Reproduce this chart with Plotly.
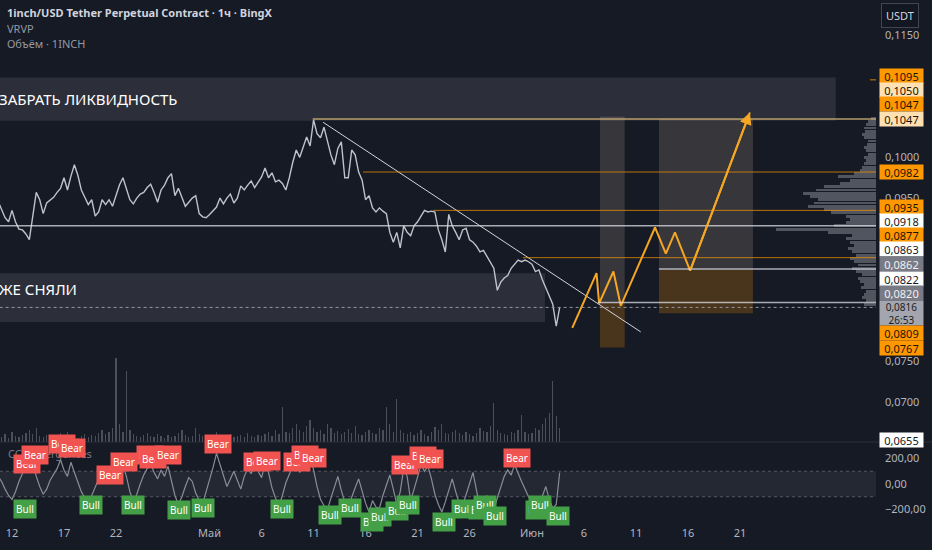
import numpy as np
import pandas as pd
import plotly.graph_objects as go

# price path, every 8 hours
times = pd.date_range("2025-04-10 16:00", periods=163, freq="8h")
close = [
    0.0946, 0.0935, 0.0926, 0.0921, 0.0935, 0.0921, 0.0912, 0.0911, 0.0906, 0.0899,
    0.0929, 0.0957, 0.0948, 0.0931, 0.0944, 0.0948, 0.0951, 0.0957, 0.0962, 0.0975,
    0.0960, 0.0977, 0.0991, 0.0978, 0.0960, 0.0951, 0.0942, 0.0948, 0.0928, 0.0933,
    0.0948, 0.0942, 0.0948, 0.0940, 0.0954, 0.0966, 0.0975, 0.0962, 0.0948, 0.0943,
    0.0950, 0.0955, 0.0957, 0.0963, 0.0967, 0.0957, 0.0945, 0.0960, 0.0966, 0.0975,
    0.0980, 0.0953, 0.0962, 0.0951, 0.0940, 0.0945, 0.0950, 0.0953, 0.0931, 0.0927,
    0.0926, 0.0930, 0.0935, 0.0939, 0.0950, 0.0943, 0.0950, 0.0955, 0.0944, 0.0950,
    0.0965, 0.0960, 0.0966, 0.0971, 0.0963, 0.0970, 0.0976, 0.0987, 0.0975, 0.0981,
    0.0970, 0.0972, 0.0968, 0.0960, 0.0975, 0.0994, 0.1009, 0.1000, 0.1014, 0.1025,
    0.1014, 0.1046, 0.1029, 0.1024, 0.1037, 0.1021, 0.1003, 0.0991, 0.1011, 0.1019,
    0.0975, 0.0975, 0.1009, 0.1003, 0.0982, 0.0972, 0.0948, 0.0953, 0.0938, 0.0933,
    0.0938, 0.0934, 0.0931, 0.0908, 0.0896, 0.0908, 0.0889, 0.0916, 0.0908, 0.0904,
    0.0916, 0.0921, 0.0928, 0.0935, 0.0933, 0.0934, 0.0933, 0.0911, 0.0899, 0.0884,
    0.0930, 0.0916, 0.0908, 0.0899, 0.0911, 0.0913, 0.0899, 0.0896, 0.0891, 0.0884,
    0.0886, 0.0879, 0.0872, 0.0864, 0.0837, 0.0847, 0.0852, 0.0855, 0.0864, 0.0869,
    0.0874, 0.0872, 0.0874, 0.0872, 0.0869, 0.0860, 0.0862, 0.0850, 0.0840, 0.0828,
    0.0820, 0.0793, 0.0816,
]
volume = [
    6, 5, 8, 4, 10, 6, 5, 7, 9, 12,
    8, 14, 6, 5, 7, 4, 6, 5, 9, 7,
    10, 6, 5, 4, 6, 8, 5, 7, 6, 9,
    12, 8, 10, 14, 86, 18, 10, 72, 12, 8,
    6, 5, 7, 9, 6, 5, 8, 6, 4, 7,
    5, 6, 9, 12, 7, 5, 6, 14, 8, 6,
    5, 4, 6, 10, 7, 5, 6, 8, 5, 6,
    7, 5, 9, 6, 5, 7, 6, 8, 10, 6,
    12, 8, 36, 10, 9, 14, 18, 12, 10, 16,
    22, 14, 10, 12, 8, 18, 14, 9, 11, 8,
    10, 13, 9, 16, 8, 7, 10, 12, 9, 8,
    14, 12, 36, 18, 10, 44, 12, 9, 8, 10,
    7, 9, 12, 8, 6, 10, 15, 12, 18, 9,
    8, 10, 12, 9, 7, 10, 8, 6, 9, 14,
    11, 10, 16, 40, 12, 9, 8, 7, 10, 9,
    12, 28, 10, 8, 9, 14, 12, 18, 24, 30,
    62, 26, 14,
]
cci = [
    60, 20, -40, -90, -120, -60, 20, 80, 140, 90,
    160, 60, -20, -80, -40, 30, 80, 120, 190, 110,
    60, 170, 90, 20, -60, -110, -150, -90, -20, 40,
    100, 50, 130, 70, 10, 90, 150, 60, -60, -140,
    -80, 0, 70, 120, 160, 90, 40, 110, 60, 140,
    30, -90, -160, -100, -20, 50, 20, -70, -130, -150,
    -60, 30, 130, 240, 150, 60, -20, 40, 100, 30,
    -40, 60, 120, 80, 170, 100, 50, 160, 90, -30,
    -110, -170, -90, 10, 80, 140, 170, 90, 160, 120,
    200, 110, -20, -120, -170, -200, -110, -30, 60, -50,
    -140, -180, -100, -30, 40, -60, -150, -220, -130, -180,
    -190, -90, 0, 70, -40, -160, -60, 120, 60, -130,
    -40, 60, 150, 100, 140, 40, -80, -160, -220, -140,
    -40, 40, -60, -150, -170, -80, 20, 90, -50, -180,
    -160, -90, -150, -200, -110, -20, 60, 110, 70, 150,
    80, 20, -40, -100, -140, -180, -170, -90, -20, -120,
    -190, -160, 90,
]

# visible range volume profile (VRVP)
profile_levels = np.round(np.arange(0.0820, 0.10481, 0.0004), 4)
profile_vol = [
    12, 10, 14, 12, 10, 15, 12, 16, 18, 14,
    20, 24, 18, 22, 26, 20, 24, 28, 22, 26,
    30, 24, 48, 100, 42, 30, 26, 30, 45, 52,
    68, 62, 58, 66, 73, 60, 52, 36, 26, 38,
    22, 16, 14, 12, 10, 12, 8, 10, 12, 9,
    8, 12, 14, 11, 12, 10, 8, 5,
]

# CCI divergence tags
bear_time = ["2025-04-13 11:00", "2025-04-14 05:00", "2025-04-16 19:00", "2025-04-17 18:00",
             "2025-04-21 10:00", "2025-04-22 18:00", "2025-04-25 06:00", "2025-04-25 13:00",
             "2025-04-27 00:00", "2025-05-01 19:00", "2025-05-05 13:00", "2025-05-06 12:00",
             "2025-05-09 10:00", "2025-05-10 04:00", "2025-05-10 23:00", "2025-05-19 19:00",
             "2025-05-21 12:00", "2025-05-22 05:00", "2025-05-30 13:00"]
bear_cci = [157, 227, 314, 282, 71, 172, 227, 196, 227, 314, 172, 180, 172, 227, 204, 149, 220, 196, 204]
bull_time = ["2025-04-13 06:00", "2025-04-19 14:00", "2025-04-23 15:00", "2025-04-28 01:00",
             "2025-04-30 09:00", "2025-05-07 23:00", "2025-05-12 14:00", "2025-05-14 12:00",
             "2025-05-16 15:00", "2025-05-17 09:00", "2025-05-19 00:00", "2025-05-20 02:00",
             "2025-05-23 13:00", "2025-05-25 09:00", "2025-05-27 00:00", "2025-05-27 12:00",
             "2025-05-28 11:00", "2025-06-01 12:00", "2025-06-01 18:00", "2025-06-03 12:00"]
bull_cci = [-196, -165, -165, -204, -188, -196, -243, -188, -298, -259, -212, -165, -298, -196,
            -204, -165, -251, -204, -165, -251]

# drawn levels
orange_levels = [0.1047, 0.0982, 0.0935, 0.0877]
orange_start = ["2025-05-10 22:00", "2025-05-15 18:00", "2025-05-22 12:00", "2025-05-31 03:00"]
white_levels = [0.0916, 0.0863, 0.0822]
white_start = ["2025-04-01 00:00", "2025-06-13 05:00", "2025-06-07 08:00"]
last_price = 0.0816

trend_time = ["2025-05-11 22:00", "2025-06-11 11:00"]
trend_price = [0.1043, 0.0786]

proj_time = ["2025-06-04 21:00", "2025-06-07 05:00", "2025-06-07 11:00", "2025-06-08 20:00",
             "2025-06-09 13:00", "2025-06-12 20:00", "2025-06-13 21:00", "2025-06-14 18:00",
             "2025-06-16 05:00", "2025-06-21 23:00"]
proj_price = [0.0791, 0.0858, 0.0821, 0.0860, 0.0818, 0.0914, 0.0882, 0.0908, 0.0861, 0.1055]

# zones: (start, end, low, high)
top_zone = ("2025-04-01", "2025-06-30 05:00", 0.1045, 0.1098)
low_zone = ("2025-04-01", "2025-06-02 06:00", 0.0798, 0.0858)
box_a = ("2025-06-07 13:00", "2025-06-09 22:00", 0.1050, 0.0822, 0.0767)
box_b = ("2025-06-13 05:00", "2025-06-22 06:00", 0.1047, 0.0862, 0.0809)

price_tags = ["0,1095", "0,1050", "0,1047", "0,1047", "0,0982", "0,0935", "0,0918", "0,0877",
              "0,0863", "0,0862", "0,0822", "0,0820", "0,0816<br>26:53", "0,0809", "0,0767", "0,0655"]
tag_kind = ["o", "p", "o", "p", "o", "o", "w", "o", "w", "g", "w", "g", "c", "o", "o", "w"]

BG = "#161a25"
X_END = "2025-07-10"
H = 525  # plot height in px

fig = go.Figure()

fig.add_trace(go.Bar(x=times, y=volume, yaxis="y3", width=3 * 3600 * 1000,
                     marker=dict(color="rgba(120,123,134,0.55)", line_width=0), hoverinfo="skip"))
fig.add_trace(go.Bar(x=profile_vol, y=profile_levels, orientation="h", xaxis="x2", yaxis="y",
                     width=0.00036, marker=dict(color="rgba(140,143,153,0.5)", line_width=0)))
fig.add_trace(go.Scatter(x=times, y=close, mode="lines",
                         line=dict(color="#bfc2ca", width=1.4)))
fig.add_trace(go.Scatter(x=trend_time, y=trend_price, mode="lines",
                         line=dict(color="#d1d4dc", width=1)))
fig.add_trace(go.Scatter(x=proj_time, y=proj_price, mode="lines",
                         line=dict(color="#f5a623", width=2)))
fig.add_trace(go.Scatter(x=times, y=cci, yaxis="y2", mode="lines",
                         line=dict(color="#8a8d96", width=1.2)))

shapes = []
for (x0, x1, lo, hi) in [top_zone, low_zone]:
    shapes.append(dict(type="rect", xref="x", yref="y", x0=x0, x1=x1, y0=lo, y1=hi,
                       fillcolor="rgba(134,137,147,0.2)", line_width=0, layer="below"))
for (x0, x1, top, mid, bot) in [box_a, box_b]:
    shapes.append(dict(type="rect", xref="x", yref="y", x0=x0, x1=x1, y0=mid, y1=top,
                       fillcolor="rgba(190,172,152,0.2)", line_width=0, layer="below"))
    shapes.append(dict(type="rect", xref="x", yref="y", x0=x0, x1=x1, y0=bot, y1=mid,
                       fillcolor="rgba(255,152,0,0.22)", line_width=0, layer="below"))
for i, (lvl, st) in enumerate(zip(orange_levels, orange_start)):
    col = "rgba(205,175,115,0.65)" if i == 0 else "rgba(255,152,0,0.7)"
    shapes.append(dict(type="line", xref="x", yref="y", x0=st, x1=X_END, y0=lvl, y1=lvl,
                       line=dict(color=col, width=2 if i == 0 else 1)))
shapes.append(dict(type="line", xref="x", yref="y", x0="2025-07-03 12:00", x1=X_END,
                   y0=0.1095, y1=0.1095, line=dict(color="rgba(255,152,0,0.8)", width=1)))
for lvl, st in zip(white_levels, white_start):
    shapes.append(dict(type="line", xref="x", yref="y", x0=st, x1=X_END, y0=lvl, y1=lvl,
                       line=dict(color="rgba(220,222,228,0.75)", width=1.5)))
shapes.append(dict(type="line", xref="x", yref="y", x0="2025-04-01", x1=X_END,
                   y0=last_price, y1=last_price, line=dict(color="#9598a1", width=1, dash="dot")))
# CCI band
shapes.append(dict(type="rect", xref="paper", yref="y2", x0=0, x1=1, y0=-100, y1=100,
                   fillcolor="rgba(134,137,147,0.13)", line_width=0, layer="below"))
for lvl in [-100, 100]:
    shapes.append(dict(type="line", xref="paper", yref="y2", x0=0, x1=1, y0=lvl, y1=lvl,
                       line=dict(color="rgba(120,123,134,0.6)", width=1, dash="dot")))
# pane separator
shapes.append(dict(type="line", xref="paper", yref="paper", x0=0, x1=1.07, y0=1 - 442 / H,
                   y1=1 - 442 / H, line=dict(color="#2a2e39", width=1)))


def paper_text(px_x, px_y, text, size=11, color="#9598a1"):
    return dict(x=px_x / 876, y=1 - px_y / H, xref="paper", yref="paper", xanchor="left",
                yanchor="middle", showarrow=False, text=text, font=dict(size=size, color=color))


ann = [
    paper_text(5, 12, "<b>1inch/USD Tether Perpetual Contract · 1ч · BingX</b>", color="#d1d4dc"),
    paper_text(5, 28, "VRVP"),
    paper_text(5, 44, "Объём · 1INCH"),
    paper_text(6, 453, "CCI Divergences", color="#787b86"),
]
ann.append(dict(x=0, y=(top_zone[2] + top_zone[3]) / 2, xref="paper", yref="y", xanchor="left",
                yanchor="middle", xshift=-3, showarrow=False, text="ЗАБРАТЬ ЛИКВИДНОСТЬ",
                font=dict(size=15, color="#ffffff")))
ann.append(dict(x=0, y=0.0838, xref="paper", yref="y", xanchor="left", yanchor="middle",
                xshift=-3, showarrow=False, text="ЖЕ СНЯЛИ", font=dict(size=15, color="#ffffff")))
ann.append(dict(x=proj_time[-1], y=proj_price[-1], ax=proj_time[-2], ay=proj_price[-2],
                xref="x", yref="y", axref="x", ayref="y", text="", showarrow=True,
                arrowhead=2, arrowsize=1.2, arrowwidth=2, arrowcolor="#f5a623"))

for t, v in zip(bear_time, bear_cci):
    ann.append(dict(x=t, y=v, xref="x", yref="y2", text="Bear", showarrow=False,
                    bgcolor="#f05350", borderpad=2, font=dict(size=10, color="#ffffff")))
for t, v in zip(bull_time, bull_cci):
    ann.append(dict(x=t, y=v, xref="x", yref="y2", text="Bull", showarrow=False,
                    bgcolor="#43a047", borderpad=2, font=dict(size=10, color="#ffffff")))

tag_style = {"o": ("#ff9800", "#1c1400"), "p": ("#ffe0b2", "#1c1400"), "w": ("#ffffff", "#131722"),
             "g": ("#787b86", "#f0f0f0"), "c": ("#a3a6af", "#1e1e1e")}
tag_px = [76, 90, 104, 119, 172, 207, 221, 235, 249, 264, 279, 293, 313, 333, 348, 440]
for txt, kind, py in zip(price_tags, tag_kind, tag_px):
    bg, fg = tag_style[kind]
    two = "<br>" in txt
    ann.append(dict(x=1, y=1 - py / H, xref="paper", yref="paper", xanchor="left", yanchor="middle",
                    xshift=3, text=txt, showarrow=False, bgcolor=bg, width=43,
                    height=24 if two else 14, borderpad=0,
                    font=dict(size=10 if two else 11, color=fg)))
ann.append(dict(x=1, y=1 - 16 / H, xref="paper", yref="paper", xanchor="left", yanchor="middle",
                xshift=5, text="USDT", showarrow=False, bgcolor="#131722", bordercolor="#434651",
                borderwidth=1, borderpad=4, font=dict(size=11, color="#d1d4dc")))

tick_dates = ["2025-04-12", "2025-04-17", "2025-04-22", "2025-05-01", "2025-05-06", "2025-05-11",
              "2025-05-16", "2025-05-21", "2025-05-26", "2025-06-01", "2025-06-06", "2025-06-11",
              "2025-06-16", "2025-06-21"]
tick_text = ["12", "17", "22", "Май", "6", "11", "16", "21", "26", "Июн", "6", "11", "16", "21"]

fig.update_layout(
    width=932, height=550,
    margin=dict(l=0, r=56, t=0, b=25),
    paper_bgcolor=BG, plot_bgcolor=BG,
    showlegend=False, separators=", ",
    font=dict(family="Noto Sans, sans-serif", color="#b2b5be"),
    bargap=0,
    xaxis=dict(type="date", range=["2025-04-10 20:18", "2025-07-04 02:00"], anchor="y2",
               showgrid=False, zeroline=False, tickvals=tick_dates, ticktext=tick_text,
               tickfont=dict(size=11, color="#b2b5be"), ticks=""),
    xaxis2=dict(overlaying="x", range=[876, 0], visible=False),
    yaxis=dict(domain=[1 - 442 / H, 1], range=[0.0651, 0.11929], side="right", anchor="x",
               showgrid=False, zeroline=False, tickvals=[0.1150, 0.1000, 0.0950, 0.0750, 0.0700],
               tickformat=".4f", tickfont=dict(size=11, color="#b2b5be"), ticklabelstandoff=8),
    yaxis2=dict(domain=[0, 1 - 443 / H], range=[-321, 321], side="right", anchor="x",
                showgrid=False, zeroline=False, tickvals=[-200, 0, 200], tickformat=".2f",
                tickfont=dict(size=11, color="#b2b5be"), ticklabelstandoff=8),
    yaxis3=dict(overlaying="y", range=[0, 450], visible=False),
    shapes=shapes, annotations=ann,
)

fig.write_html("out.html", config={"displayModeBar": False},
               post_script="document.body.style.margin='0px';")
